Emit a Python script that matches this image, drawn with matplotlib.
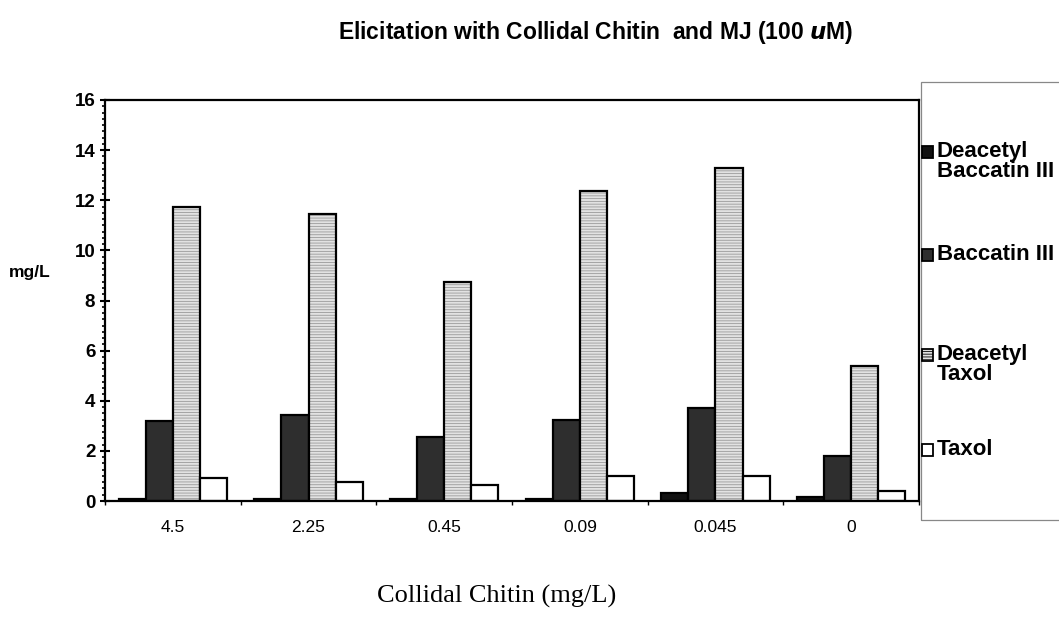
import numpy as np
import matplotlib
matplotlib.use('Agg')
import matplotlib.pyplot as plt
from matplotlib.ticker import MultipleLocator, FixedLocator
from matplotlib.patches import Rectangle

plt.rcParams['font.family'] = ['Liberation Sans', 'DejaVu Sans']
plt.rcParams['hatch.linewidth'] = 0.6

# data
categories = ['4.5', '2.25', '0.45', '0.09', '0.045', '0']
series_names = ['Deacetyl\nBaccatin III', 'Baccatin III', 'Deacetyl\nTaxol', 'Taxol']
deacetyl_baccatin = [0.06, 0.06, 0.07, 0.06, 0.3, 0.17]
baccatin = [3.2, 3.45, 2.55, 3.25, 3.7, 1.78]
deacetyl_taxol = [11.75, 11.45, 8.75, 12.35, 13.3, 5.4]
taxol = [0.9, 0.75, 0.62, 0.98, 1.0, 0.38]

series = [deacetyl_baccatin, baccatin, deacetyl_taxol, taxol]
faces = ['#111111', '#2e2e2e', '#e2e2e2', 'white']
hatches = [None, None, '------', None]
hatch_cols = ['#111111', '#2e2e2e', '#9a9a9a', 'black']

W, H = 1059, 619
fig = plt.figure(figsize=(W / 100, H / 100), dpi=100)
ax = fig.add_axes([105 / W, 1 - 501 / H, 814 / W, 401 / H])

x = np.arange(len(categories))
width = 0.2
for i, vals in enumerate(series):
    ax.bar(x + (i - 1.5) * width, vals, width, color=faces[i],
           hatch=hatches[i], edgecolor=hatch_cols[i], linewidth=0)
    ax.bar(x + (i - 1.5) * width, vals, width, fill=False,
           edgecolor='black', linewidth=1.6)

ax.set_xlim(-0.5, len(categories) - 0.5)
ax.set_ylim(0, 16)
ax.yaxis.set_major_locator(MultipleLocator(2))
ax.yaxis.set_minor_locator(MultipleLocator(0.25))
ax.tick_params(axis='y', which='major', direction='inout', length=7, width=1.5,
               labelsize=13.5)
ax.tick_params(axis='y', which='minor', direction='out', length=2.5, width=1.2)
for t in ax.get_yticklabels():
    t.set_fontweight('bold')

ax.xaxis.set_major_locator(FixedLocator(np.arange(len(categories) + 1) - 0.5))
ax.xaxis.set_minor_locator(FixedLocator(x))
ax.set_xticklabels([''] * (len(categories) + 1))
ax.set_xticklabels(categories, minor=True)
ax.tick_params(axis='x', which='major', direction='out', length=3, width=1)
ax.tick_params(axis='x', which='minor', length=0, pad=14, labelsize=12.5)

for s in ax.spines.values():
    s.set_linewidth(1.6)

fig.text(596 / W, 1 - 33 / H, 'Elicitation with Collidal Chitin  and MJ (100 $\\boldsymbol{u}$M)',
         ha='center', va='center', fontsize=16.5, fontweight='bold')
fig.text(30 / W, 1 - 272 / H, 'mg/L', ha='center', va='center', fontsize=12.5,
         fontweight='bold')
fig.text(497 / W, 1 - 596 / H, 'Collidal Chitin (mg/L)', ha='center', va='center',
         fontsize=19, family=['Liberation Serif', 'DejaVu Serif'])

# legend box and entries
fig.patches.append(Rectangle((921 / W, 1 - 520 / H), 200 / W, 438 / H,
                             transform=fig.transFigure, fill=False,
                             edgecolor='#888888', linewidth=0.9))
entry_y = [152, 255, 355, 450]
for i, name in enumerate(series_names):
    y = entry_y[i]
    fig.patches.append(Rectangle((922 / W, 1 - (y + 6) / H), 11 / W, 12 / H,
                                 transform=fig.transFigure, facecolor=faces[i],
                                 hatch=hatches[i], edgecolor='black',
                                 linewidth=1.3))
    fig.text(937 / W, 1 - (y - 11) / H, name, ha='left', va='top',
             fontsize=16, fontweight='bold', linespacing=0.95)

fig.savefig('out.png', dpi=100)
